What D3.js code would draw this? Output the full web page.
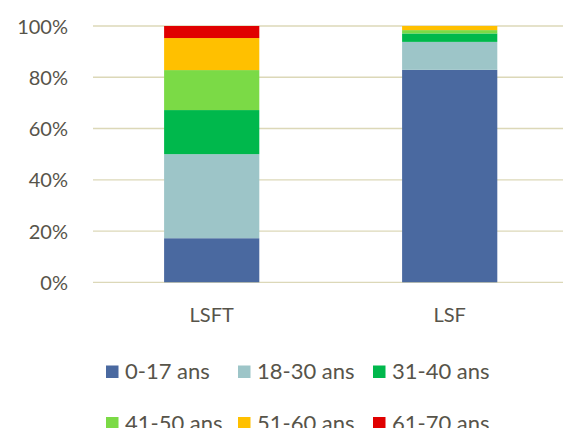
<!DOCTYPE html>
<html><head><meta charset="utf-8">
<script src="https://cdn.jsdelivr.net/npm/d3@7"></script>
<style>body{margin:0;background:#fff;} text{font-family:Lato,"Open Sans",sans-serif;}</style>
</head><body>
<svg id="c" width="563" height="428"></svg>
<script>
const categories = ["LSFT", "LSF"];
const seriesNames = ["0-17 ans", "18-30 ans", "31-40 ans", "41-50 ans", "51-60 ans", "61-70 ans"];
const seriesColors = ["#4a69a0", "#9dc5c8", "#00b84c", "#7bda46", "#ffc000", "#e00000"];
const lsftValues = [17.2, 32.8, 17.2, 15.6, 12.5, 4.7];
const lsfValues = [82.9, 10.9, 3.3, 1.3, 1.6, 0];
const yTicks = [0, 20, 40, 60, 80, 100];

const svg = d3.select("#c");
const x = d3.scaleBand().domain(categories).range([92.7, 568.7]).paddingInner(0.6).paddingOuter(0.3);
const y = d3.scaleLinear().domain([0, 100]).range([282.3, 26]);
const textColor = "#57544a";
const gridColor = "#dcd8b8";

const grid = svg.append("g");
yTicks.forEach(t => {
  grid.append("line").attr("x1", 93).attr("x2", 563).attr("y1", y(t)).attr("y2", y(t))
    .attr("stroke", gridColor).attr("stroke-width", 1.3);
});

const yAxis = d3.axisLeft(y).tickValues(yTicks).tickFormat(d => d + "%").tickSize(0).tickPadding(0);
const ya = svg.append("g").attr("transform", "translate(68,0)").call(yAxis);
ya.select(".domain").remove();
ya.selectAll("text").attr("fill", textColor).attr("font-size", 20).attr("dy", "0.35em");

const rows = [lsftValues, lsfValues];
const data = categories.map((c, i) => {
  const o = {cat: c};
  seriesNames.forEach((s, j) => o[s] = rows[i][j]);
  return o;
});
const stacked = d3.stack().keys(seriesNames)(data);
svg.append("g").selectAll("g").data(stacked).join("g")
  .attr("fill", (d, i) => seriesColors[i])
  .selectAll("rect").data(d => d).join("rect")
  .attr("x", d => x(d.data.cat))
  .attr("width", x.bandwidth())
  .attr("y", d => y(d[1]))
  .attr("height", d => Math.max(0, y(d[0]) - y(d[1])));

const xAxis = d3.axisBottom(x).tickSize(0).tickPadding(0);
const xa = svg.append("g").attr("transform", "translate(0,314.5)").call(xAxis);
xa.select(".domain").remove();
xa.selectAll("text").attr("fill", textColor).attr("font-size", 20).attr("dy", "0.35em");

const legX = [106, 238, 373];
const legY = [371.5, 423];
const leg = svg.append("g");
seriesNames.forEach((s, i) => {
  const lx = legX[i % 3], ly = legY[Math.floor(i / 3)];
  leg.append("rect").attr("x", lx).attr("y", ly - 6).attr("width", 12.5).attr("height", 12.5).attr("fill", seriesColors[i]);
  leg.append("text").attr("x", lx + 19).attr("y", ly).attr("dy", "0.35em")
    .attr("fill", textColor).attr("font-size", 22).text(s);
});
</script>
</body></html>
